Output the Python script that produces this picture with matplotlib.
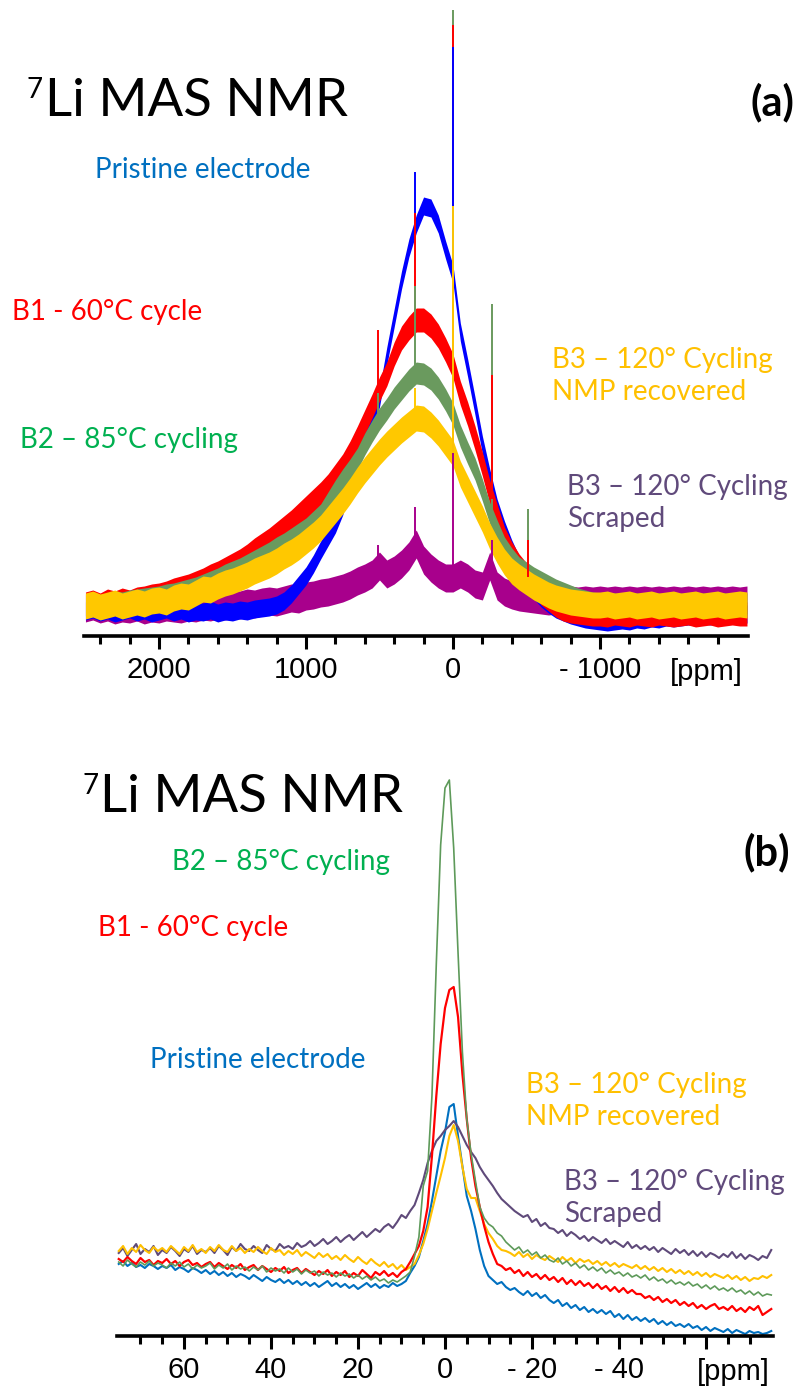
import numpy as np
import matplotlib
matplotlib.use("Agg")
import matplotlib.pyplot as plt

# ---------------- data : panel (a), wide range spectra ----------------
ppm_a = np.arange(2500, -2001, -50)

blue_a = [25, 27, 24, 26, 23, 25, 27, 24, 26, 23,
          25, 27, 24, 26, 23, 25, 24, 26, 23, 25,
          24, 26, 25, 27, 28, 29, 31, 35, 42, 51,
          60, 72, 86, 99, 112, 130, 160, 182, 200, 214,
          238, 280, 318, 356, 388, 412, 430, 428, 412, 386,
          362, 304, 268, 230, 191, 158, 128, 106, 87, 71,
          58, 46, 38, 32, 27, 24, 21, 19, 17, 16,
          15, 14, 15, 16, 15, 17, 16, 18, 17, 19,
          18, 19, 20, 19, 21, 20, 21, 20, 22, 21,
          22]
red_a = [32, 34, 31, 35, 33, 36, 34, 37, 38, 40,
         41, 43, 46, 48, 50, 53, 56, 60, 63, 67,
         71, 75, 80, 86, 91, 96, 102, 108, 114, 121,
         128, 135, 142, 150, 160, 170, 183, 198, 214, 230,
         247, 262, 282, 298, 308, 316, 316, 310, 300, 286,
         270, 243, 222, 198, 172, 144, 120, 97, 82, 70,
         61, 52, 43, 37, 31, 27, 25, 24, 23, 22,
         22, 21, 23, 22, 21, 23, 22, 21, 23, 22,
         21, 22, 23, 21, 22, 23, 21, 22, 23, 22,
         22]
green_a = [31, 33, 30, 32, 34, 33, 35, 36, 37, 38,
           39, 41, 42, 44, 46, 48, 51, 54, 57, 61,
           64, 67, 71, 75, 79, 83, 88, 92, 97, 102,
           107, 114, 121, 133, 145, 156, 166, 177, 192, 205,
           217, 227, 238, 247, 256, 263, 262, 257, 248, 236,
           222, 200, 183, 167, 146, 123, 105, 88, 77, 68,
           63, 58, 54, 50, 46, 43, 40, 37, 35, 33,
           32, 31, 32, 30, 31, 32, 30, 31, 32, 30,
           31, 32, 30, 31, 32, 30, 31, 32, 30, 31,
           32]
yellow_a = [30, 32, 29, 31, 33, 30, 32, 34, 32, 35,
            36, 34, 38, 40, 39, 43, 47, 46, 50, 53,
            55, 58, 61, 65, 68, 71, 75, 80, 84, 89,
            95, 101, 108, 117, 126, 135, 145, 156, 166, 175,
            184, 192, 199, 206, 212, 218, 217, 211, 203, 193,
            183, 162, 147, 132, 117, 100, 86, 74, 65, 59,
            54, 49, 45, 41, 38, 36, 34, 33, 32, 31,
            31, 32, 30, 31, 32, 30, 31, 32, 30, 31,
            32, 30, 31, 32, 30, 31, 32, 30, 31, 32,
            31]
purple_a = [28, 30, 27, 29, 26, 28, 27, 29, 26, 28,
            27, 29, 28, 27, 29, 28, 30, 29, 31, 30,
            32, 31, 33, 32, 34, 35, 34, 36, 38, 37,
            40, 41, 43, 44, 46, 48, 51, 55, 58, 62,
            70, 62, 66, 72, 80, 92, 76, 68, 62, 58,
            58, 62, 58, 52, 50, 70, 50, 44, 41, 39,
            38, 37, 36, 35, 36, 35, 36, 35, 36, 35,
            36, 35, 36, 35, 36, 35, 36, 35, 36, 35,
            36, 35, 36, 35, 36, 35, 36, 35, 36, 35,
            36]
# noise half-widths of each band (intensity units)
noise_a = {"blue": 9, "red": 12, "green": 11, "yellow": 13, "purple": 14}

# sharp lines / spinning sidebands (ppm, top intensity)
spk_ppm_blue, spk_top_blue = [258, 0], [464, 589]
spk_ppm_red, spk_top_red = [510, 258, 0, -265, -510], [306, 423, 611, 261, 96]
spk_ppm_green, spk_top_green = [510, 258, 0, -265, -510], [243, 350, 626, 332, 127]
spk_ppm_yellow, spk_top_yellow = [258, 0], [248, 430]
spk_ppm_purple, spk_top_purple = [510, 258, 0, -265], [91, 129, 560, 96]

# ---------------- data : panel (b), zoom on the central line ----------------
ppm_b = np.arange(75, -75.5, -1.0)

blue_b = [72, 75, 70, 73, 69, 71, 68, 72, 70, 67,
          70, 68, 71, 66, 69, 67, 64, 68, 66, 63,
          66, 62, 65, 61, 64, 60, 63, 59, 62, 60,
          57, 61, 58, 55, 59, 56, 54, 57, 53, 56,
          52, 55, 51, 54, 50, 53, 49, 52, 55, 50,
          53, 49, 52, 48, 51, 47, 50, 53, 49, 52,
          48, 51, 49, 53, 50, 52, 55, 63, 70, 79,
          95, 112, 135, 160, 185, 204, 229, 232, 200, 170,
          140, 125, 107, 86, 70, 60, 56, 52, 54, 49,
          46, 48, 44, 41, 45, 40, 43, 38, 41, 36,
          33, 36, 30, 33, 28, 31, 26, 29, 24, 27,
          23, 26, 22, 25, 19, 22, 17, 21, 16, 19,
          15, 18, 14, 17, 12, 15, 11, 14, 10, 12,
          9, 12, 8, 10, 6, 9, 5, 8, 6, 4,
          7, 3, 6, 4, 2, 5, 3, 4, 2, 3, 5]
red_b = [77, 74, 79, 75, 72, 78, 74, 76, 71, 75,
         73, 77, 72, 75, 70, 74, 76, 71, 73, 69,
         72, 74, 69, 73, 70, 67, 71, 68, 72, 66,
         69, 71, 66, 70, 67, 64, 68, 65, 69, 63,
         66, 68, 63, 67, 64, 61, 65, 62, 66, 60,
         64, 61, 65, 59, 63, 60, 66, 62, 58, 64,
         61, 65, 60, 63, 59, 64, 67, 74, 82, 90,
         105, 129, 180, 240, 292, 328, 346, 349, 319, 262,
         217, 178, 150, 129, 110, 94, 82, 72, 70, 66,
         68, 63, 66, 60, 64, 59, 62, 57, 61, 56,
         59, 54, 58, 52, 56, 51, 55, 50, 53, 48,
         52, 47, 50, 45, 49, 44, 48, 43, 46, 42,
         42, 38, 40, 36, 39, 34, 37, 33, 36, 31,
         34, 30, 33, 28, 31, 27, 30, 32, 27, 29,
         26, 30, 25, 28, 24, 29, 26, 30, 21, 24, 27]
green_b = [74, 70, 76, 72, 69, 74, 71, 75, 70, 73,
           71, 68, 73, 70, 74, 69, 72, 67, 71, 68,
           70, 73, 67, 71, 68, 72, 66, 70, 67, 69,
           65, 69, 66, 70, 64, 68, 65, 67, 63, 68,
           64, 67, 62, 66, 63, 65, 60, 64, 61, 63,
           59, 63, 60, 62, 58, 61, 57, 60, 56, 59,
           55, 57, 53, 56, 54, 57, 60, 64, 80, 99,
           150, 165, 240, 372, 491, 548, 556, 488, 383, 284,
           217, 182, 155, 129, 118, 112, 109, 103, 100, 94,
           90, 86, 89, 83, 86, 81, 84, 78, 81, 76,
           74, 78, 72, 75, 70, 73, 68, 71, 66, 69,
           65, 68, 63, 66, 62, 64, 60, 63, 59, 61,
           58, 61, 56, 59, 55, 57, 53, 56, 52, 54,
           51, 54, 50, 52, 48, 51, 47, 50, 46, 48,
           45, 48, 44, 46, 42, 45, 41, 44, 40, 42, 41]
yellow_b = [85, 90, 82, 88, 84, 91, 86, 83, 89, 85,
            88, 84, 90, 86, 82, 89, 85, 91, 84, 87,
            83, 89, 85, 91, 86, 84, 90, 85, 88, 83,
            87, 84, 89, 85, 82, 88, 84, 86, 81, 85,
            82, 86, 80, 84, 81, 78, 83, 79, 82, 77,
            80, 76, 81, 77, 74, 79, 75, 72, 77, 73,
            70, 74, 69, 72, 67, 71, 66, 69, 72, 81,
            92, 107, 125, 143, 160, 178, 200, 211, 195, 169,
            147, 138, 138, 125, 112, 103, 97, 90, 86, 85,
            83, 80, 84, 79, 82, 77, 81, 78, 76, 80,
            77, 74, 79, 75, 78, 73, 77, 74, 76, 72,
            75, 71, 74, 70, 73, 69, 72, 70, 68, 71,
            67, 70, 66, 69, 65, 68, 64, 67, 63, 66,
            62, 65, 61, 64, 60, 63, 59, 62, 60, 58,
            61, 57, 60, 56, 59, 55, 58, 57, 60, 58, 61]
purple_b = [83, 88, 80, 86, 92, 82, 87, 84, 90, 81,
            86, 83, 89, 85, 80, 87, 84, 90, 82, 86,
            84, 88, 83, 90, 86, 81, 89, 85, 92, 87,
            85, 90, 86, 83, 91, 87, 85, 92, 88, 90,
            87, 93, 89, 91, 95, 90, 93, 97, 92, 95,
            99, 94, 98, 101, 96, 100, 104, 99, 103, 107,
            104, 109, 112, 108, 114, 121, 118, 125, 131, 143,
            156, 173, 185, 195, 200, 206, 210, 215, 209, 200,
            191, 184, 178, 169, 162, 156, 150, 143, 137, 133,
            129, 125, 122, 119, 121, 114, 117, 110, 113, 108,
            107, 103, 106, 100, 104, 101, 97, 100, 95, 99,
            96, 93, 97, 92, 95, 92, 89, 94, 88, 91,
            87, 90, 86, 89, 84, 88, 85, 82, 87, 83,
            86, 81, 85, 80, 84, 79, 83, 81, 78, 82,
            79, 84, 78, 82, 77, 81, 79, 76, 80, 78, 86]

# tick labels
ticks_a = [2000, 1000, 0, -1000]
ticklabels_a = ["2000", "1000", "0", "- 1000"]
ticks_b = [60, 40, 20, 0, -20, -40, -60]
ticklabels_b = ["60", "40", "20", "0", "- 20", "- 40", ""]

labels_a = [("Pristine electrode", "blue"), ("B1 - 60°C cycle", "red"),
            ("B3 – 120° Cycling\nNMP recovered", "orange"),
            ("B2 – 85°C cycling", "green"),
            ("B3 – 120° Cycling\nScraped", "purple")]

# ---------------- styling ----------------
LINE = {"blue": "#0000FF", "red": "#FF0000", "green": "#6A9A5E",
        "yellow": "#FFC800", "purple": "#A8008C"}
LINE_B = {"blue": "#0070C0", "red": "#FF0000", "green": "#5E9A5A",
          "yellow": "#FFC000", "purple": "#5F4A7A"}
TXT = {"blue": "#0070C0", "red": "#FF0000", "orange": "#FFC000",
       "green": "#00B050", "purple": "#604A7B"}
LABEL_FONT = ["Lato", "DejaVu Sans"]
TICK_FONT = ["Liberation Sans", "DejaVu Sans"]

W, H = 800, 1391
fig = plt.figure(figsize=(W / 100, H / 100), dpi=100)


def px_axes(l, t, r, b):
    return fig.add_axes([l / W, 1 - b / H, (r - l) / W, (b - t) / H])


def ftext(x, y, s, **kw):
    fig.text(x / W, 1 - y / H, s, **kw)


def style_axis(ax, majors, majlabels, minors):
    for sp in ("left", "right", "top"):
        ax.spines[sp].set_visible(False)
    ax.spines["bottom"].set_linewidth(2.6)
    ax.set_yticks([])
    ax.set_xticks(majors)
    ax.set_xticklabels(majlabels, fontfamily=TICK_FONT, fontsize=21)
    ax.set_xticks(minors, minor=True)
    ax.tick_params(axis="x", which="major", direction="out", length=9.5,
                   width=2.2, pad=5)
    ax.tick_params(axis="x", which="minor", direction="out", length=5.5,
                   width=2.2)
    ax.patch.set_alpha(0)


# ---------------- panel (a) ----------------
axa = px_axes(84, 5, 748, 636)
axa.set_xlim(2510, -2007)
axa.set_ylim(0, 631)

bands = [("purple", purple_a, spk_ppm_purple, spk_top_purple),
         ("blue", blue_a, spk_ppm_blue, spk_top_blue),
         ("red", red_a, spk_ppm_red, spk_top_red),
         ("green", green_a, spk_ppm_green, spk_top_green),
         ("yellow", yellow_a, spk_ppm_yellow, spk_top_yellow)]
for name, vals, sp_x, sp_top in bands:
    v = np.asarray(vals, float)
    hw = noise_a[name]
    axa.fill_between(ppm_a, v - hw, v + hw, color=LINE[name], lw=0)
# narrow lines: purple underneath, the others tallest first
spikes = sorted([(t, x, name, vals) for name, vals, sx, st in bands
                 for x, t in zip(sx, st)],
                key=lambda s: (s[2] != "purple", -s[0]))
for top, x, name, vals in spikes:
    v = np.asarray(vals, float)
    base = np.interp(x, ppm_a[::-1], v[::-1])
    axa.vlines(x, base, top, color=LINE[name], lw=1.4)

minors_a = [2400, 2200, 1800, 1600, 1400, 1200, 800, 600, 400, 200,
            -200, -400, -600, -800, -1200, -1400, -1600, -1800]
style_axis(axa, ticks_a, ticklabels_a, minors_a)

# ---------------- panel (b) ----------------
axb = px_axes(117, 740, 773, 1336)
axb.set_xlim(75.4, -75.4)
axb.set_ylim(0, 596)
for name, vals, lw in [("blue", blue_b, 1.5), ("purple", purple_b, 1.5),
                       ("yellow", yellow_b, 1.5), ("red", red_b, 1.6),
                       ("green", green_b, 1.2)]:
    axb.plot(ppm_b, vals, color=LINE_B[name], lw=lw)
minors_b = [70, 65, 55, 50, 45, 35, 30, 25, 15, 10, 5, -5, -10, -15,
            -25, -30, -35, -45, -50, -55, -65, -70]
style_axis(axb, ticks_b, ticklabels_b, minors_b)

# ---------------- texts ----------------
ftext(706, 672, "[ppm]", fontfamily=TICK_FONT, fontsize=21, ha="center", va="center")
ftext(733, 1372, "[ppm]", fontfamily=TICK_FONT, fontsize=21, ha="center", va="center")

# titles
ftext(27, 90, "7", fontfamily=LABEL_FONT, fontsize=20, ha="left", va="center")
ftext(45, 102, "Li MAS NMR", fontfamily=LABEL_FONT, fontsize=38, ha="left", va="center")
ftext(82, 786, "7", fontfamily=LABEL_FONT, fontsize=20, ha="left", va="center")
ftext(100, 798, "Li MAS NMR", fontfamily=LABEL_FONT, fontsize=38, ha="left", va="center")
ftext(794, 102, "(a)", fontfamily=LABEL_FONT, fontsize=30, fontweight="bold",
      ha="right", va="center")
ftext(790, 852, "(b)", fontfamily=LABEL_FONT, fontsize=30, fontweight="bold",
      ha="right", va="center")

pos_a = [(95, 170), (12, 312), (552, 376), (20, 440), (567, 503)]
pos_b = [(150, 1060), (98, 928), (526, 1101), (172, 862), (564, 1198)]
for (txt, col), (xa, ya), (xb, yb) in zip(labels_a, pos_a, pos_b):
    for x, y in ((xa, ya), (xb, yb)):
        ftext(x, y, txt, fontfamily=LABEL_FONT, fontsize=20, color=TXT[col],
              ha="left", va="center", linespacing=1.25)

fig.savefig("out.png", dpi=100)
